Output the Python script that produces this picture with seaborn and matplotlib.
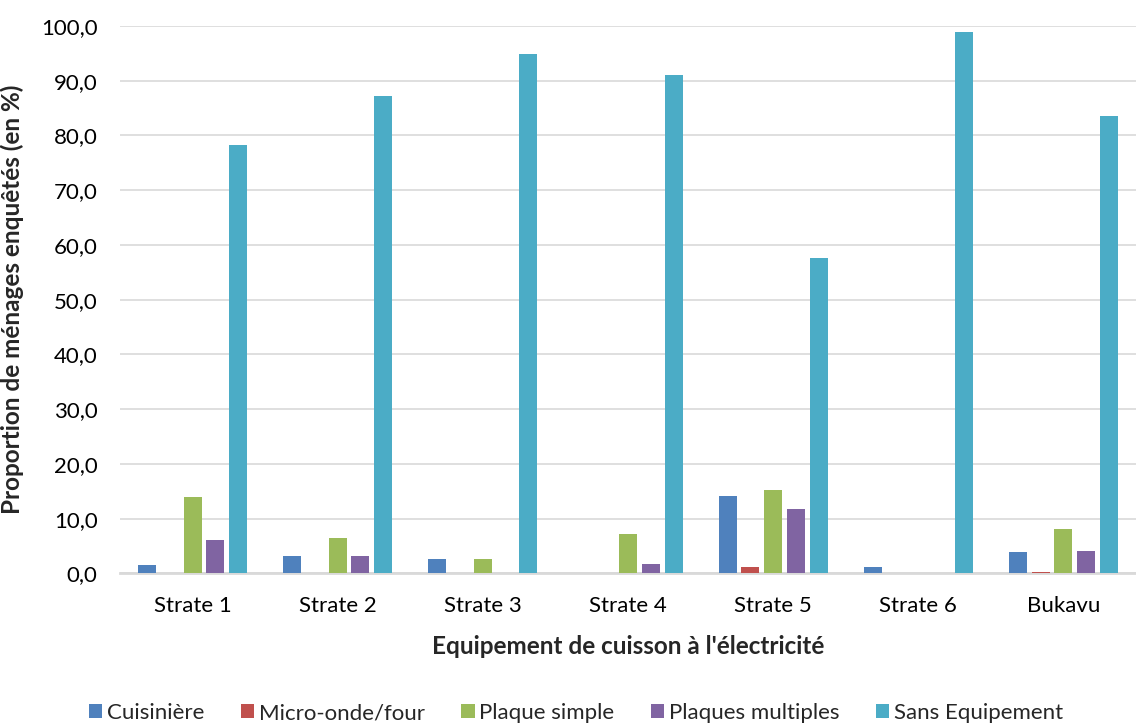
import numpy as np
import pandas as pd
import matplotlib
matplotlib.use("Agg")
import matplotlib.pyplot as plt
import seaborn as sns
from matplotlib.patches import Patch

strates = ["Strate 1", "Strate 2", "Strate 3", "Strate 4", "Strate 5", "Strate 6", "Bukavu"]
equipements = ["Cuisinière", "Micro-onde/four", "Plaque simple", "Plaques multiples", "Sans Equipement"]

cuisiniere = [1.5, 3.2, 2.6, 0.0, 14.2, 1.2, 3.9]
micro_onde = [0.0, 0.0, 0.0, 0.0, 1.2, 0.0, 0.3]
plaque_simple = [14.0, 6.5, 2.7, 7.2, 15.3, 0.0, 8.1]
plaques_multiples = [6.1, 3.2, 0.0, 1.7, 11.8, 0.0, 4.1]
sans_equipement = [78.2, 87.2, 94.9, 91.0, 57.7, 98.9, 83.5]

couleurs = ["#4F81BD", "#C0504D", "#9BBB59", "#8064A2", "#4BACC6"]

series = [cuisiniere, micro_onde, plaque_simple, plaques_multiples, sans_equipement]
df = pd.DataFrame(
    [(s, e, v) for e, vals in zip(equipements, series) for s, v in zip(strates, vals)],
    columns=["strate", "equipement", "valeur"],
)

sns.set_theme(style="white")
plt.rcParams["font.family"] = ["Lato", "DejaVu Sans"]

fig = plt.figure(figsize=(11.36, 7.24), dpi=100)
ax = fig.add_axes([0.1056, 0.2079, 0.8944, 0.7562])

sns.barplot(
    data=df, x="strate", y="valeur", hue="equipement",
    order=strates, hue_order=equipements, palette=couleurs,
    width=0.785, gap=0.21, ax=ax, legend=False, saturation=1,
    linewidth=0,
)

ax.set_ylim(0, 100)
ax.set_xlim(-0.5, len(strates) - 0.5)
ax.set_yticks(np.arange(0, 101, 10))
ax.set_yticklabels([f"{v:.1f}".replace(".", ",") for v in np.arange(0, 101, 10)])
ax.yaxis.grid(True, color="#D9D9D9", linewidth=1.2)
ax.set_axisbelow(True)
for side in ["top", "right", "left"]:
    ax.spines[side].set_visible(False)
ax.spines["bottom"].set_color("#D9D9D9")
ax.spines["bottom"].set_linewidth(2)
ax.spines["bottom"].set_zorder(0.5)
ax.tick_params(axis="both", length=0, labelsize=16, colors="#000000")
ax.tick_params(axis="y", pad=16)
ax.tick_params(axis="x", pad=16)

ax.set_ylabel("Proportion de ménages enquêtés (en %)", fontsize=17.5, fontweight="bold", labelpad=12)
ax.set_xlabel("Equipement de cuisson à l'électricité", fontsize=17.5, fontweight="bold", labelpad=14)

handles = [Patch(facecolor=c, edgecolor="none") for c in couleurs]
fig.legend(
    handles, equipements, loc="center", bbox_to_anchor=(0.507, 1 - 713 / 724),
    ncol=5, frameon=False, fontsize=16, handlelength=0.6, handleheight=0.6,
    handletextpad=0.2, columnspacing=1.65,
)

fig.savefig("out.png", dpi=100)
